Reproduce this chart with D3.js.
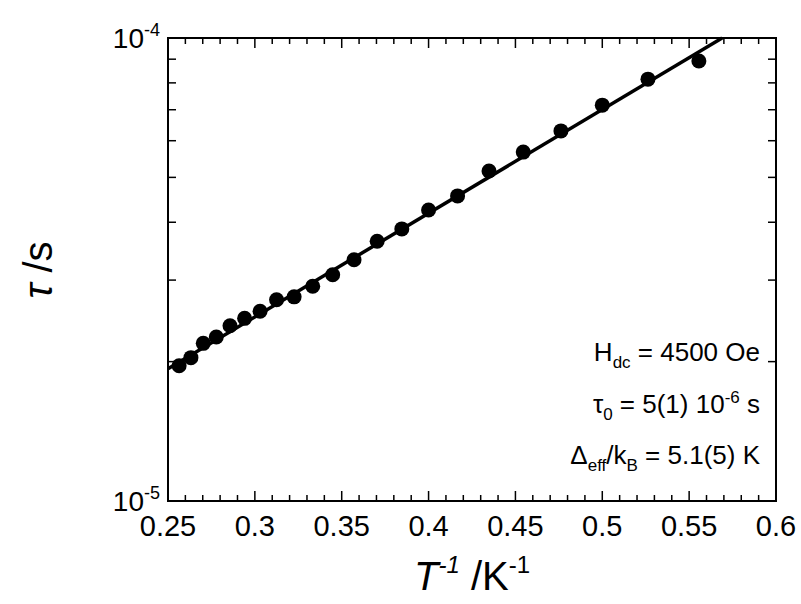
<!DOCTYPE html>
<html><head><meta charset="utf-8">
<script src="https://cdn.jsdelivr.net/npm/d3@7"></script>
<style>body{margin:0;background:#fff}text{font-family:"Liberation Sans",Arial,sans-serif;fill:#000}</style>
</head><body><svg id="c" width="801" height="604"></svg>
<script>
const invT=[0.2564,0.2632,0.2703,0.2778,0.2857,0.2941,0.3030,0.3125,0.3226,0.3333,0.3448,0.3571,0.3704,0.3846,0.4000,0.4167,0.4348,0.4545,0.4762,0.5000,0.5263,0.5556];
const tau=[1.96e-5,2.04e-5,2.19e-5,2.26e-5,2.39e-5,2.48e-5,2.57e-5,2.72e-5,2.76e-5,2.91e-5,3.08e-5,3.32e-5,3.64e-5,3.87e-5,4.25e-5,4.56e-5,5.16e-5,5.67e-5,6.30e-5,7.16e-5,8.15e-5,8.92e-5];
const fitX=[0.25,0.569];
const fitY=[1.93e-5,1.0e-4];
const xTicks=[0.25,0.3,0.35,0.4,0.45,0.5,0.55,0.6];
const svg=d3.select("#c");
const L=168,R=776,T=38,B=501;
const x=d3.scaleLinear().domain([0.25,0.6]).range([L,R]);
const y=d3.scaleLog().domain([1e-5,1e-4]).range([B,T]);
const g=svg.append("g");
g.append("rect").attr("x",L).attr("y",T).attr("width",R-L).attr("height",B-T).attr("fill","none").attr("stroke","#000").attr("stroke-width",2);
const minorX=d3.range(0.25,0.6001,0.01);
minorX.forEach((v,i)=>{const maj=i%5===0;const l=maj?10:6;
 g.append("line").attr("x1",x(v)).attr("x2",x(v)).attr("y1",B).attr("y2",B-l).attr("stroke","#000").attr("stroke-width",1.5);
 g.append("line").attr("x1",x(v)).attr("x2",x(v)).attr("y1",T).attr("y2",T+l).attr("stroke","#000").attr("stroke-width",1.5);});
d3.range(2,10).forEach(k=>{const v=k*1e-5;
 g.append("line").attr("x1",L).attr("x2",L+8).attr("y1",y(v)).attr("y2",y(v)).attr("stroke","#000").attr("stroke-width",1.5);
 g.append("line").attr("x1",R).attr("x2",R-8).attr("y1",y(v)).attr("y2",y(v)).attr("stroke","#000").attr("stroke-width",1.5);});
xTicks.forEach(v=>g.append("text").attr("x",x(v)).attr("y",B+35).attr("text-anchor","middle").attr("font-size",29).text(v));
[[1e-5,"-5"],[1e-4,"-4"]].forEach(([v,e])=>{const t=g.append("text").attr("x",L-8).attr("y",y(v)+10).attr("text-anchor","end").attr("font-size",28);
 t.append("tspan").text("10");t.append("tspan").attr("font-size",18).attr("dy",-12).text(e);});
g.append("path").attr("d",d3.line().x((d,i)=>x(d)).y((d,i)=>y(fitY[i]))(fitX)).attr("stroke","#000").attr("stroke-width",3.5).attr("fill","none");
g.selectAll("circle").data(invT).join("circle").attr("cx",d=>x(d)).attr("cy",(d,i)=>y(tau[i])).attr("r",7.5).attr("fill","#000");
const yl=g.append("text").attr("transform","translate(52,270) rotate(-90)").attr("text-anchor","middle").attr("font-size",40);
yl.append("tspan").attr("font-style","italic").text("τ");yl.append("tspan").text(" /s");
const xl=g.append("text").attr("x",472).attr("y",590).attr("text-anchor","middle").attr("font-size",40);
xl.append("tspan").attr("font-style","italic").text("T");xl.append("tspan").attr("font-style","italic").attr("font-size",24).attr("dy",-17).text("-1");
xl.append("tspan").attr("dy",17).text(" /K");xl.append("tspan").attr("font-size",24).attr("dy",-17).text("-1");
function ann(yy,parts){const t=g.append("text").attr("x",760).attr("y",yy).attr("text-anchor","end").attr("font-size",26);
 parts.forEach(([s,dy,fs])=>{const p=t.append("tspan").text(s);if(dy)p.attr("dy",dy);if(fs)p.attr("font-size",fs);});}
ann(361,[["H"],["dc",7,17],[" = 4500 Oe",-7]]);
ann(413,[["τ"],["0",7,17],[" = 5(1) 10",-7],["-6",-10,17],[" s",10]]);
ann(464,[["Δ"],["eff",7,17],["/k",-7],["B",7,17],[" = 5.1(5) K",-7]]);
</script></body></html>
